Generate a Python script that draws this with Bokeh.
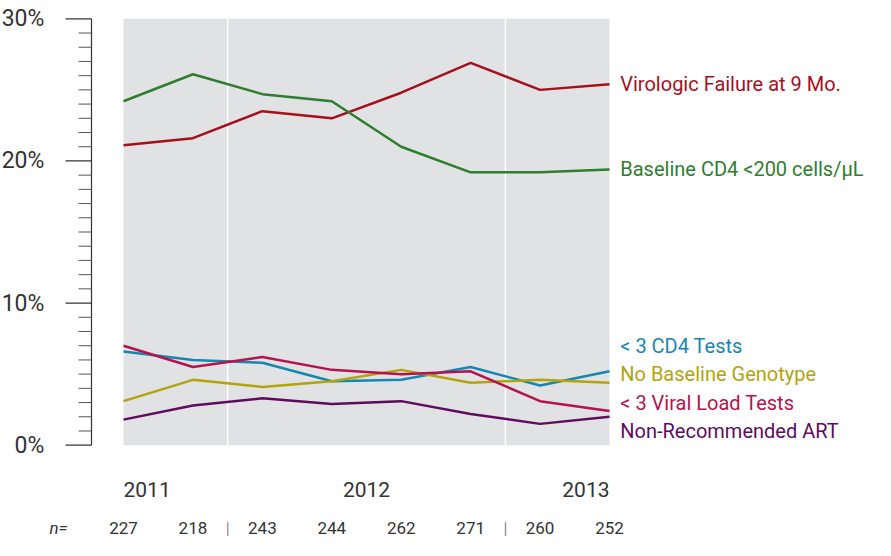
from bokeh.plotting import figure
from bokeh.models import Range1d
from bokeh.embed import file_html
from bokeh.resources import INLINE
from bokeh.core.properties import value

# ---- data ----
periods = [0, 1, 2, 3, 4, 5, 6, 7]
n_counts = ["227", "218", "243", "244", "262", "271", "260", "252"]
years = ["2011", "2012", "2013"]
year_pos = [0, 3.5, 7]
year_breaks = [1.5, 5.5]

virologic = [21.1, 21.6, 23.5, 23.0, 24.8, 26.9, 25.0, 25.4]
cd4_200 = [24.2, 26.1, 24.7, 24.2, 21.0, 19.2, 19.2, 19.4]
cd4_tests = [6.6, 6.0, 5.8, 4.5, 4.6, 5.5, 4.2, 5.2]
genotype = [3.1, 4.6, 4.1, 4.5, 5.3, 4.4, 4.6, 4.4]
vl_tests = [7.0, 5.5, 6.2, 5.3, 5.0, 5.2, 3.1, 2.4]
non_rec = [1.8, 2.8, 3.3, 2.9, 3.1, 2.2, 1.5, 2.0]

series_names = ["Virologic Failure at 9 Mo.", "Baseline CD4 <200 cells/\u00b5L", "< 3 CD4 Tests",
                "No Baseline Genotype", "< 3 Viral Load Tests", "Non-Recommended ART"]
series_vals = [virologic, cd4_200, cd4_tests, genotype, vl_tests, non_rec]
series_colors = ["#a50f1e", "#2f7d2e", "#1686b3", "#b3a40c", "#b5124e", "#600b5e"]
label_y = [25.4, 19.4, 7.0, 5.0, 3.0, 1.0]

y_ticks = [0, 10, 20, 30]
y_tick_labels = ["0%", "10%", "20%", "30%"]
minor_ticks = [v for v in range(0, 31) if v % 10 != 0]

FONT = value("Roboto")
TXT = "#333333"

# layout constants (screen mapping)
X0, X1 = -1.7716, 10.831
Y0, Y1 = -6.705, 31.288
AX_X = -0.461      # axis line
MAJ_X = -0.835     # major tick outer end
MIN_X = -0.648     # minor tick outer end
LBL_X = -1.14      # tick label right edge
YEAR_Y = -3.12
N_Y = -5.85

p = figure(width=875, height=540, output_backend="svg", toolbar_location=None,
           x_range=Range1d(X0, X1), y_range=Range1d(Y0, Y1),
           x_axis_location=None, y_axis_location=None,
           min_border_left=0, min_border_right=0, min_border_top=0, min_border_bottom=0)
p.outline_line_color = None
p.xgrid.visible = False
p.ygrid.visible = False
p.background_fill_color = "white"
p.border_fill_color = "white"

# grey plotting panel
p.quad(left=periods[0], right=periods[-1], bottom=y_ticks[0], top=y_ticks[-1],
       fill_color="#e1e2e4", line_color=None)
p.segment(x0=year_breaks, y0=[y_ticks[0]] * 2, x1=year_breaks, y1=[y_ticks[-1]] * 2,
          line_color="white", line_width=1.5)

for vals, col in zip(series_vals, series_colors):
    p.line(periods, vals, line_color=col, line_width=2.5)

# y axis drawn by hand
p.segment(x0=[AX_X], y0=[y_ticks[0]], x1=[AX_X], y1=[y_ticks[-1]], line_color="#333333", line_width=1.2)
p.segment(x0=[MAJ_X] * len(y_ticks), y0=y_ticks, x1=[AX_X] * len(y_ticks), y1=y_ticks,
          line_color="#333333", line_width=1.2)
p.segment(x0=[MIN_X] * len(minor_ticks), y0=minor_ticks, x1=[AX_X] * len(minor_ticks), y1=minor_ticks,
          line_color="#555555", line_width=1)
p.text(x=[LBL_X] * len(y_ticks), y=y_ticks, text=y_tick_labels, text_font=FONT,
       text_font_size="23px", text_color=TXT, text_align="right", text_baseline="middle")

# series labels
p.text(x=[periods[-1] + 0.155] * len(series_names), y=label_y, text=series_names,
       text_color=series_colors, text_font=FONT, text_font_size="20px",
       text_align="left", text_baseline="middle")

# year labels
p.text(x=year_pos, y=[YEAR_Y] * 3, text=years, text_align=["left", "center", "right"],
       text_font=FONT, text_font_size="21px", text_color=TXT, text_baseline="middle")

# n labels
p.text(x=periods, y=[N_Y] * 8, text=n_counts, text_align="center",
       text_font=FONT, text_font_size="17px", text_color=TXT, text_baseline="middle")
p.text(x=year_breaks, y=[N_Y] * 2, text=["|"] * 2, text_align="center",
       text_font=FONT, text_font_size="16px", text_color="#888888", text_baseline="middle")
p.text(x=[-1.066], y=[N_Y], text=["n="], text_align="left",
       text_font=FONT, text_font_size="17px", text_color=TXT, text_font_style="italic",
       text_baseline="middle")

open("out.html", "w").write(file_html(p, INLINE))
